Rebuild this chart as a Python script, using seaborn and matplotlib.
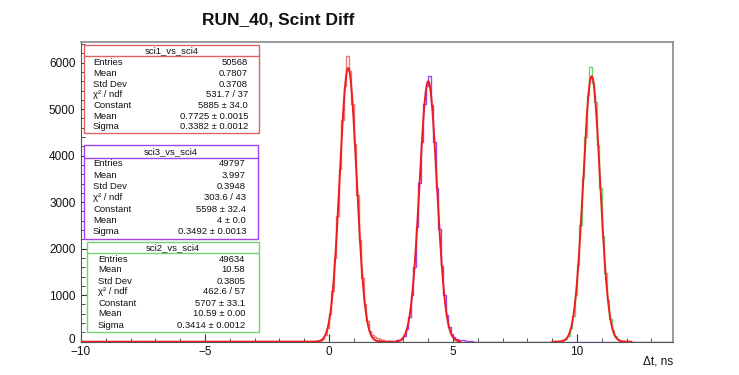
import numpy as np
import pandas as pd
import matplotlib
matplotlib.use("Agg")
import matplotlib.pyplot as plt
import matplotlib.transforms as mtransforms
from matplotlib.patches import Rectangle
from matplotlib.ticker import MultipleLocator
import seaborn as sns

# ---------------- data ----------------
title = "RUN_40, Scint Diff"
xlabel = "Δt, ns"
bin_width = 0.1
x_min, x_max = -10.0, 13.85
y_max = 6450

# sci1_vs_sci4 (first bin centre and counts per 0.1 ns bin)
sci1_start = -0.45
sci1_counts = [10, 25, 60, 140, 300, 600, 1080, 1800, 2700, 3720, 4760, 5500,
               6150, 5820, 5100, 4250, 3150, 2180, 1380, 820, 440, 240, 140,
               95, 70, 50, 35, 22, 12, 6]
# sci3_vs_sci4
sci3_start = 2.45
sci3_counts = [10, 15, 20, 28, 35, 55, 120, 280, 540, 1010, 1600, 2460, 3420,
               4300, 5120, 5500, 5720, 5080, 4300, 3300, 2420, 1620, 1000, 580,
               320, 170, 95, 60, 45, 35, 28, 20, 14, 8, 4]
# sci2_vs_sci4
sci2_start = 9.05
sci2_counts = [5, 8, 12, 18, 30, 60, 130, 290, 560, 1000, 1650, 2500, 3520,
               4400, 5300, 5900, 5560, 5150, 4230, 3300, 2280, 1480, 900, 480,
               250, 120, 55, 25, 10, 5]

# Gaussian fit results: constant, mean, sigma, fit range
fit_constant = [5885, 5598, 5707]
fit_mean = [0.7725, 4.0, 10.59]
fit_sigma = [0.3382, 0.3492, 0.3414]
fit_lo = [-10.0, 2.7, 9.0]
fit_hi = [2.6, 5.3, 12.2]

# stat boxes
box_names = ["sci1_vs_sci4", "sci3_vs_sci4", "sci2_vs_sci4"]
box_labels = ["Entries", "Mean", "Std Dev", "χ² / ndf", "Constant", "Mean", "Sigma"]
box_values = [
    ["50568", "0.7807", "0.3708", "531.7 / 37", "5885 ± 34.0", "0.7725 ± 0.0015", "0.3382 ± 0.0012"],
    ["49797", "3.997", "0.3948", "303.6 / 43", "5598 ± 32.4", "4 ± 0.0", "0.3492 ± 0.0013"],
    ["49634", "10.58", "0.3805", "462.6 / 57", "5707 ± 33.1", "10.59 ± 0.00", "0.3414 ± 0.0012"],
]

yticks = [0, 1000, 2000, 3000, 4000, 5000, 6000]
xticks = [-10, -5, 0, 5, 10]

# ---------------- style ----------------
c_red_hist = "#e87a78"
c_red_box = "#e06262"
c_purple = "#a244f2"
c_green = "#74d474"
c_fit = "#ee1c1c"

sns.set_style("ticks")
plt.rcParams["font.family"] = ["Liberation Sans", "DejaVu Sans"]

W, H = 739, 375
fig = plt.figure(figsize=(W / 100, H / 100), dpi=100)
ax_l, ax_r, ax_t, ax_b = 81, 672.5, 41.7, 341.7
ax = fig.add_axes([ax_l / W, 1 - ax_b / H, (ax_r - ax_l) / W, (ax_b - ax_t) / H])


def hist_frame(start, counts):
    centers = start + bin_width * np.arange(len(counts))
    return pd.DataFrame({"x": centers, "w": np.asarray(counts, dtype=float)})


# green, then purple over it, then red sci1
sns.histplot(data=hist_frame(sci2_start, sci2_counts), x="x", weights="w",
             binwidth=bin_width, binrange=(x_min, 13.9),
             element="step", fill=False, color=c_green, linewidth=1.0, ax=ax, zorder=2)
sns.histplot(data=hist_frame(sci3_start, sci3_counts), x="x", weights="w",
             binwidth=bin_width, binrange=(2.6, 13.9),
             element="step", fill=False, color=c_purple, linewidth=1.0, ax=ax, zorder=3)
sns.histplot(data=hist_frame(sci1_start, sci1_counts), x="x", weights="w",
             binwidth=bin_width, binrange=(x_min, 2.6),
             element="step", fill=False, color=c_red_hist, linewidth=1.0, ax=ax, zorder=4)

for A, mu, sg, lo, hi in zip(fit_constant, fit_mean, fit_sigma, fit_lo, fit_hi):
    xs = np.linspace(lo, hi, 600)
    ys = A * np.exp(-0.5 * ((xs - mu) / sg) ** 2)
    sns.lineplot(x=xs, y=ys, ax=ax, color=c_fit, linewidth=1.4, sort=False,
                 estimator=None, zorder=5)

ax.set_xlim(x_min, x_max)
ax.set_ylim(0, y_max)
ax.set_xlabel("")
ax.set_ylabel("")
ax.set_xticks(xticks)
ax.set_yticks(yticks)
ax.xaxis.set_minor_locator(MultipleLocator(1))
ax.yaxis.set_minor_locator(MultipleLocator(200))
ax.tick_params(axis="both", which="major", direction="in", length=6, width=0.8,
               labelsize=8.5, color="#333333", labelcolor="#111111")
ax.tick_params(axis="both", which="minor", direction="in", length=3, width=0.6,
               color="#333333")
ax.tick_params(axis="y", pad=4)
ax.tick_params(axis="x", pad=3)
for s in ["top", "right"]:
    ax.spines[s].set_visible(True)
    ax.spines[s].set_color("#8a8a8a")
    ax.spines[s].set_linewidth(1.2)
ax.spines["left"].set_color("#555555")
ax.spines["bottom"].set_color("#555555")

# nudge the "0" y label up a little so it does not collide with "-10"
fig.canvas.draw()
zero_lab = ax.get_yticklabels()[0]
zero_lab.set_transform(zero_lab.get_transform() +
                       mtransforms.ScaledTranslation(0, 3 / 100, fig.dpi_scale_trans))

fig.text(202 / W, 1 - 20 / H, title, fontsize=12.5, fontweight="bold",
         ha="left", va="center", color="#111111")
fig.text(673 / W, 1 - 361 / H, xlabel, fontsize=8.5, ha="right", va="center",
         color="#111111")

# ---------------- stat boxes ----------------
boxes = [
    dict(x0=84, x1=259, y0=45, y1=133, ty=55.5, rows=(62.7, 10.7), lx=93, rx=248, col=c_red_box),
    dict(x0=84, x1=258, y0=145, y1=238.5, ty=158, rows=(164, 11.3), lx=93, rx=246, col=c_purple),
    dict(x0=87, x1=259, y0=242, y1=332, ty=253, rows=(259, 11.0), lx=98, rx=245, col=c_green),
]
fs = 6.8
for b, name, vals in zip(boxes, box_names, box_values):
    fx = lambda px: px / W
    fy = lambda py: 1 - py / H
    rect = Rectangle((fx(b["x0"]), fy(b["y1"])), fx(b["x1"]) - fx(b["x0"]),
                     fy(b["y0"]) - fy(b["y1"]), transform=fig.transFigure,
                     facecolor="white", edgecolor=b["col"], linewidth=1.0, zorder=10)
    fig.add_artist(rect)
    fig.add_artist(plt.Line2D([fx(b["x0"]), fx(b["x1"])], [fy(b["ty"]), fy(b["ty"])],
                              transform=fig.transFigure, color=b["col"], linewidth=1.0,
                              zorder=11))
    fig.text(fx((b["x0"] + b["x1"]) / 2), fy((b["y0"] + b["ty"]) / 2), name,
             fontsize=fs, ha="center", va="center", zorder=12, color="#111111")
    r0, dr = b["rows"]
    for i, (lab, val) in enumerate(zip(box_labels, vals)):
        yy = fy(r0 + i * dr)
        fig.text(fx(b["lx"]), yy, lab, fontsize=fs, ha="left", va="center",
                 zorder=12, color="#111111")
        fig.text(fx(b["rx"]), yy, val, fontsize=fs, ha="right", va="center",
                 zorder=12, color="#111111")

fig.savefig("out.png", dpi=100, facecolor="white")
